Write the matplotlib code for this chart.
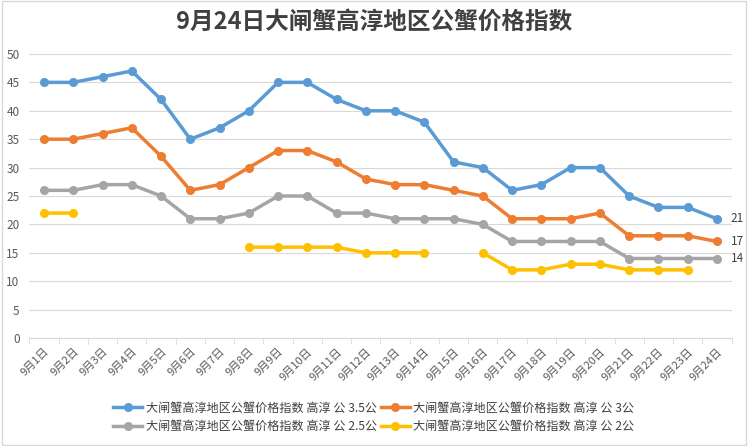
import matplotlib
matplotlib.use("Agg")
import matplotlib.pyplot as plt
import numpy as np
from matplotlib.patches import Rectangle

plt.rcParams['font.family'] = ['Noto Sans CJK SC', 'DejaVu Sans']

dates = [f"9月{d}日" for d in range(1, 25)]
s35 = [45,45,46,47,42,35,37,40,45,45,42,40,40,38,31,30,26,27,30,30,25,23,23,21]
s3 = [35,35,36,37,32,26,27,30,33,33,31,28,27,27,26,25,21,21,21,22,18,18,18,17]
s25 = [26,26,27,27,25,21,21,22,25,25,22,22,21,21,21,20,17,17,17,17,14,14,14,14]
s2 = [22,22,None,None,None,None,None,16,16,16,16,15,15,15,None,15,12,12,13,13,12,12,12,None]

names = ["大闸蟹高淳地区公蟹价格指数 高淳 公 3.5公",
         "大闸蟹高淳地区公蟹价格指数 高淳 公 3公",
         "大闸蟹高淳地区公蟹价格指数 高淳 公 2.5公",
         "大闸蟹高淳地区公蟹价格指数 高淳 公 2公"]
colors = ["#5B9BD5", "#ED7D31", "#A5A5A5", "#FFC000"]
title = "9月24日大闸蟹高淳地区公蟹价格指数"

fig = plt.figure(figsize=(7.48, 4.46), dpi=100)
ax = fig.add_axes([0.0393, 0.242, 0.9387, 0.637])
x = np.arange(len(dates))
series = [s35, s3, s25, s2]
handles = []
for s, c, n in zip(series, colors, names):
    y = np.array([np.nan if v is None else v for v in s], dtype=float)
    h, = ax.plot(x, y, color=c, lw=2.5, marker='o', ms=5.5, label=n)
    handles.append(h)

for s, c in zip(series[:3], colors[:3]):
    ax.annotate(str(s[-1]), (x[-1], s[-1]), xytext=(10, 0), textcoords='offset points',
                va='center', ha='left', fontsize=8.5, color='#404040')

ax.set_xlim(-0.5, len(dates) - 0.5)
ax.set_ylim(0, 50)
ax.set_yticks(range(0, 51, 5))
ax.set_xticks(x)
ax.set_xticks(np.arange(-0.5, len(dates), 1), minor=True)
ax.set_xticklabels(dates, rotation=45, ha='right', rotation_mode='anchor', fontsize=8, color='#595959')
ax.tick_params(axis='y', length=0, labelsize=8.5, labelcolor='#595959', pad=7)
ax.tick_params(axis='x', which='major', length=0, pad=6)
ax.tick_params(axis='x', which='minor', length=4, color='#D9D9D9')
ax.grid(axis='y', color='#D9D9D9', lw=0.8)
ax.set_axisbelow(True)
for sp in ['top', 'right', 'left']:
    ax.spines[sp].set_visible(False)
ax.spines['bottom'].set_color('#D9D9D9')

fig.text(0.5, 0.951, title, ha='center', va='center', fontsize=17, fontweight='bold', color='#404040')

order = [0, 2, 1, 3]
fig.legend(handles=[handles[i] for i in order], loc='lower center', bbox_to_anchor=(0.5, 0.005), ncol=2,
           frameon=False, fontsize=8.7, labelcolor='#404040', columnspacing=0.3, handlelength=2.4,
           handletextpad=0.3, labelspacing=0.45)

fig.patches.append(Rectangle((0.003, 0.003), 0.994, 0.994, transform=fig.transFigure,
                             fill=False, edgecolor='#D9D9D9', lw=1))

fig.savefig("out.png", dpi=100)
